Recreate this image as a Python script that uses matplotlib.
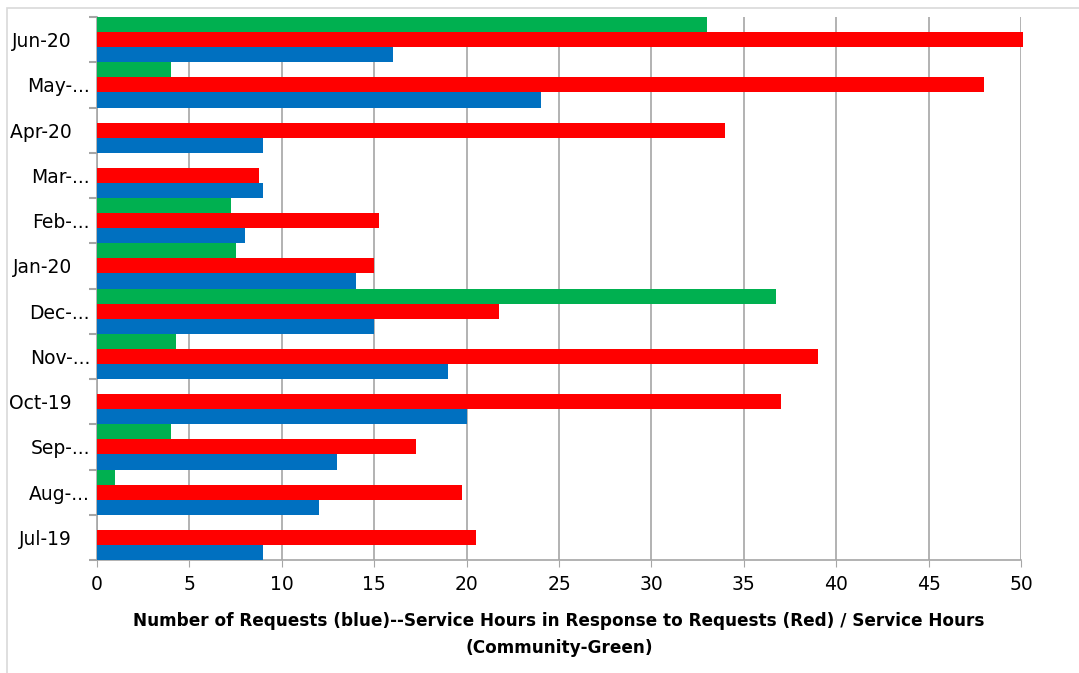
import matplotlib.pyplot as plt
import matplotlib.patches as mpatches
import numpy as np

# months bottom -> top, as in the chart
months = ['Jul-19', 'Aug-...', 'Sep-...', 'Oct-19', 'Nov-...', 'Dec-...',
          'Jan-20', 'Feb-...', 'Mar-...', 'Apr-20', 'May-...', 'Jun-20']
requests = [9, 12, 13, 20, 19, 15, 14, 8, 9, 9, 24, 16]
response_hours = [20.5, 19.75, 17.25, 37, 39, 21.75, 15, 15.25, 8.75, 34, 48, 50.1]
community_hours = [0, 1, 4, 0, 4.25, 36.75, 7.5, 7.25, 0, 0, 4, 33]
xticks = [0, 5, 10, 15, 20, 25, 30, 35, 40, 45, 50]

blue = '#0070C0'
red = '#FF0000'
green = '#00B050'
grey = '#A6A6A6'

fig = plt.figure(figsize=(10.79, 6.73), dpi=100)
ax = fig.add_axes([97 / 1079, 1 - 560 / 673, (1021 - 97) / 1079, (560 - 17) / 673])

# light frame round the whole chart
fig.patches.append(mpatches.Rectangle((7 / 1079, -0.01), 1.02, 1 - 8 / 673 + 0.01,
                                      transform=fig.transFigure, fill=False,
                                      edgecolor='#D9D9D9', linewidth=1.2))

y = np.arange(len(months))
h = 1 / 3
ax.barh(y - h, requests, height=h, color=blue, clip_on=False, zorder=3)
ax.barh(y, response_hours, height=h, color=red, clip_on=False, zorder=3)
ax.barh(y + h, community_hours, height=h, color=green, clip_on=False, zorder=3)

ax.set_xlim(0, 50)
ax.set_ylim(-0.5, len(months) - 0.5)
ax.set_xticks(xticks)
ax.set_xticklabels([str(t) for t in xticks], fontsize=13.5)
ax.set_yticks(y)
labels = [m if m.endswith('...') else m + '   ' for m in months]
ax.set_yticklabels(labels, fontsize=13.5)
ax.set_yticks(np.arange(len(months) + 1) - 0.5, minor=True)

ax.tick_params(axis='y', which='major', length=0, pad=5)
ax.tick_params(axis='y', which='minor', length=6, width=1.5, color=grey, direction='out')
ax.tick_params(axis='x', length=5, color=grey, pad=6)

ax.grid(axis='x', color=grey, linewidth=1.2, zorder=0)
ax.set_axisbelow(True)
for s in ['top', 'right']:
    ax.spines[s].set_visible(False)
for s in ['left', 'bottom']:
    ax.spines[s].set_color(grey)
    ax.spines[s].set_linewidth(1.2)

ax.set_xlabel('Number of Requests (blue)--Service Hours in Response to Requests (Red) / Service Hours\n(Community-Green)',
              fontsize=12.2, fontweight='bold', labelpad=13, linespacing=1.65)

fig.savefig('out.png', dpi=100)
